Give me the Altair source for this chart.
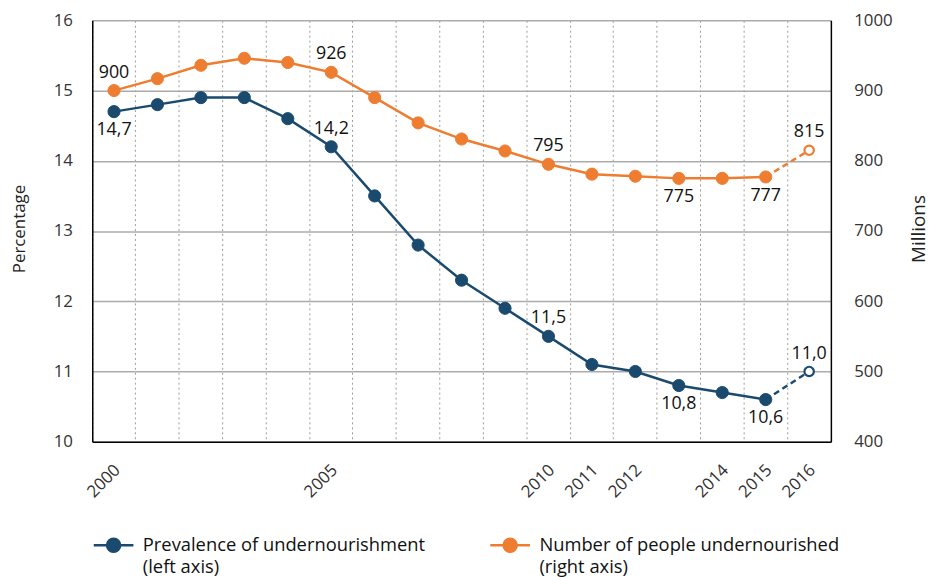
import json
import altair as alt
import pandas as pd

# ---------------- data ----------------
years = list(range(2000, 2017))
prevalence = [14.7, 14.8, 14.9, 14.9, 14.6, 14.2, 13.5, 12.8, 12.3, 11.9,
              11.5, 11.1, 11.0, 10.8, 10.7, 10.6, 11.0]
undernourished = [900, 917, 936, 946, 940, 926, 890, 854, 831, 814,
                  795, 781, 778, 775, 775, 777, 815]
x_tick_years = [2000, 2005, 2010, 2011, 2012, 2014, 2015, 2016]
projected_year = 2016
prev_labels_above = [2005, 2010, 2016]
prev_labels_below = [2000, 2013, 2015]
num_labels_above = [2000, 2005, 2010, 2016]
num_labels_below = [2013, 2015]
left_ticks = [10, 11, 12, 13, 14, 15, 16]
right_ticks = [400, 500, 600, 700, 800, 900, 1000]

S_PREV = "Prevalence of undernourishment|(left axis)"
S_NUM = "Number of people undernourished|(right axis)"
series_names = [S_PREV, S_NUM]
BLUE = "#1a4a6e"
ORANGE = "#ee7d31"
FONT = "Open Sans"
TXT = "#111111"

prev_df = pd.DataFrame({
    "year": years, "series": S_PREV, "value": prevalence,
    "label": [f"{v:.1f}".replace(".", ",") for v in prevalence],
})
num_df = pd.DataFrame({
    "year": years, "series": S_NUM, "value": undernourished,
    "label": [str(v) for v in undernourished],
})

color_scale = alt.Scale(domain=series_names, range=[BLUE, ORANGE])

LEGEND_PATH = ("M-1,0H-0.33M0.33,0H1"
               "M-0.33,0A0.33,0.33,0,1,1,0.33,0A0.33,0.33,0,1,1,-0.33,0Z")

legend = alt.Legend(
    title=None, orient="none", legendX=0, legendY=508,
    direction="horizontal", columns=2, columnPadding=60,
    symbolType=LEGEND_PATH, symbolSize=1600, symbolStrokeWidth=2.5,
    labelFont=FONT, labelFontSize=18.5, labelColor=TXT, labelLimit=600,
    labelOffset=8, labelBaseline="middle",
    labelExpr="split(datum.label, '|')",
)

x_enc = alt.X(
    "year:O",
    scale=alt.Scale(type="band", domain=years, paddingInner=0, paddingOuter=0),
    axis=alt.Axis(
        title=None, bandPosition=0, grid=True, gridDash=[2, 3],
        gridColor="#9a9a9a", gridWidth=1, ticks=False,
        domainColor="#000000", domainWidth=1.5,
        labelAngle=-45, labelPadding=20, labelOffset=-2,
        labelFont=FONT, labelFontSize=17, labelColor="#333333",
        labelExpr="indexof(" + json.dumps(x_tick_years) + ", datum.value) >= 0 ? datum.label : ''",
    ),
)

y_prev = alt.Y(
    "value:Q",
    scale=alt.Scale(domain=[10, 16], nice=False, zero=False),
    axis=alt.Axis(
        title="Percentage", orient="left", values=left_ticks, grid=True,
        gridColor="#ababab", gridWidth=1.5, ticks=False,
        domainColor="#000000", domainWidth=1.5, format="d",
        labelPadding=20, labelFont=FONT, labelFontSize=17, labelColor="#333333",
        titleFont=FONT, titleFontSize=17, titleFontWeight="normal",
        titleColor="#222222", titleAngle=270, titleBaseline="middle",
        titleAlign="center", titleX=-73, titleY=210,
    ),
)

y_num = alt.Y(
    "value:Q",
    scale=alt.Scale(domain=[400, 1000], nice=False, zero=False),
    axis=alt.Axis(
        title="Millions", orient="right", values=right_ticks, grid=False,
        ticks=False, domainColor="#000000", domainWidth=1.5, format="d",
        labelPadding=23, labelFont=FONT, labelFontSize=17, labelColor="#333333",
        titleFont=FONT, titleFontSize=19, titleFontWeight="normal",
        titleColor="#222222", titleAngle=270, titleBaseline="middle",
        titleAlign="center", titleX=88, titleY=210,
    ),
)

stroke_enc = alt.Stroke("series:N", scale=color_scale, legend=legend)
fill_enc = alt.Fill("series:N", scale=color_scale, legend=legend)


def series_layers(df, y_enc, above, below):
    base = alt.Chart(df).encode(x=x_enc, y=y_enc)
    solid = base.transform_filter(alt.datum.year < projected_year).mark_line(
        strokeWidth=2.5).encode(stroke=stroke_enc)
    dashed = base.transform_filter(alt.datum.year >= projected_year - 1).mark_line(
        strokeWidth=2.5, strokeDash=[6, 4]).encode(stroke=stroke_enc)
    pts = base.transform_filter(alt.datum.year < projected_year).mark_point(
        filled=True, size=150, opacity=1, strokeWidth=1).encode(
        fill=fill_enc, stroke=stroke_enc)
    open_pts = base.transform_filter(alt.datum.year == projected_year).mark_point(
        filled=False, size=90, opacity=1, strokeWidth=2.2, fill="white").encode(
        stroke=stroke_enc)
    t_above = base.transform_filter(
        alt.FieldOneOfPredicate(field="year", oneOf=above)).mark_text(
        dy=-18, font=FONT, fontSize=18, color=TXT).encode(text="label:N")
    t_below = base.transform_filter(
        alt.FieldOneOfPredicate(field="year", oneOf=below)).mark_text(
        dy=19, font=FONT, fontSize=18, color=TXT).encode(text="label:N")
    return alt.layer(pts, solid, dashed, open_pts, t_above, t_below)


left = series_layers(prev_df, y_prev, prev_labels_above, prev_labels_below)
right = series_layers(num_df, y_num, num_labels_above, num_labels_below)

chart = (
    alt.layer(left, right)
    .resolve_scale(y="independent")
    .properties(
        width=745, height=425,
        padding={"left": 85, "top": 10, "right": 102, "bottom": 134},
        autosize=alt.AutoSizeParams(type="none"),
        background="white",
    )
    .configure(style={"guide-label": {"lineHeight": 22}})
    .configure_view(stroke=None)
)

chart.save("out.html", embed_options={"renderer": "svg", "actions": False})
